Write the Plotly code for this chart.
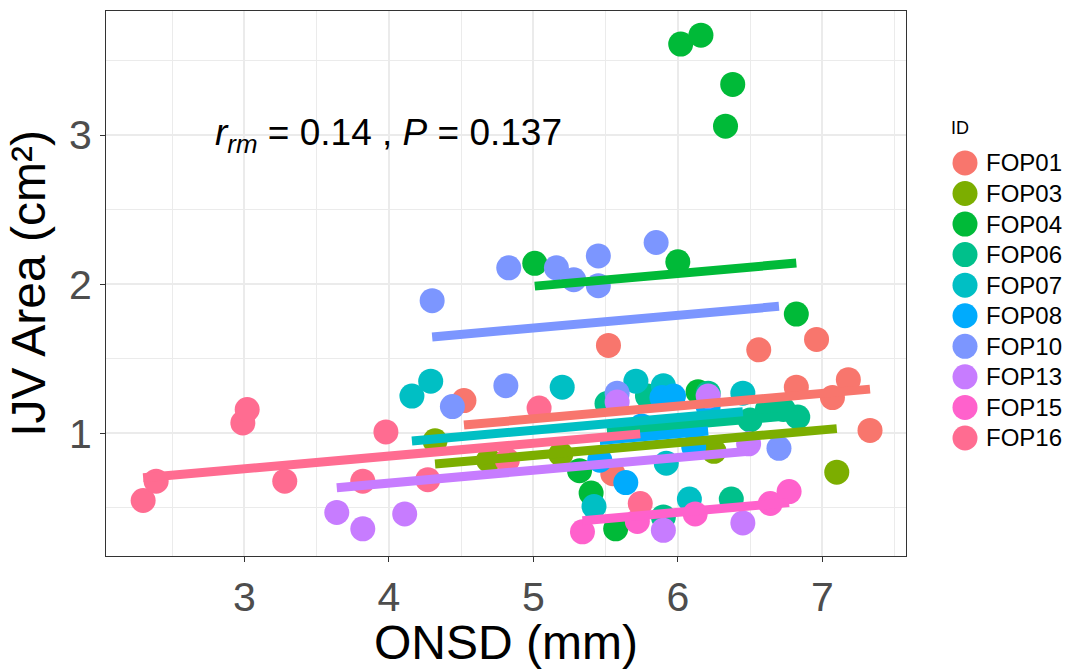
import plotly.graph_objects as go

# ONSD (mm) and IJV area (cm^2) per subject
ids = ["FOP01", "FOP03", "FOP04", "FOP06", "FOP07", "FOP08", "FOP10", "FOP13", "FOP15", "FOP16"]
colors = ["#F8766D", "#7CAE00", "#00BA38", "#00C08B", "#00BFC4",
          "#00ABFD", "#7C96FF", "#C77CFF", "#FF61CC", "#FF6C91"]

fop01_x = [4.52, 5.52, 5.55, 6.56, 6.96, 6.82, 7.18, 7.07, 7.33]
fop01_y = [1.22, 1.59, 0.73, 1.56, 1.63, 1.31, 1.36, 1.24, 1.02]
fop03_x = [4.32, 4.69, 5.19, 6.25, 7.10]
fop03_y = [0.95, 0.82, 0.86, 0.88, 0.74]
fop04_x = [6.02, 6.16, 6.38, 6.33, 5.01, 6.00, 6.82, 6.14, 5.32, 5.40, 5.57]
fop04_y = [3.61, 3.67, 3.34, 3.06, 2.14, 2.15, 1.80, 1.28, 0.75, 0.60, 0.36]
fop06_x = [5.51, 5.79, 5.90, 6.21, 6.37, 6.50, 6.62, 6.73, 6.83]
fop06_y = [1.20, 1.25, 0.44, 1.27, 0.56, 1.09, 1.16, 1.16, 1.11]
fop07_x = [4.16, 4.29, 5.20, 5.71, 5.90, 6.45, 5.42, 5.92, 6.08]
fop07_y = [1.25, 1.35, 1.31, 1.35, 1.32, 1.27, 0.51, 0.80, 0.56]
fop08_x = [5.46, 5.64, 5.75, 5.89, 5.97, 6.11, 6.21]
fop08_y = [0.82, 0.67, 1.05, 1.24, 1.25, 0.91, 1.18]
fop10_x = [4.30, 4.83, 5.16, 5.28, 5.45, 5.45, 5.85, 4.44, 4.81, 5.58, 6.70]
fop10_y = [1.89, 2.11, 2.11, 2.03, 2.19, 1.99, 2.28, 1.18, 1.32, 1.27, 0.90]
fop13_x = [3.64, 3.82, 4.11, 5.58, 6.21, 5.90, 6.45, 6.49]
fop13_y = [0.47, 0.36, 0.46, 1.21, 1.25, 0.35, 0.40, 0.93]
fop15_x = [5.34, 5.72, 6.12, 6.64, 6.77]
fop15_y = [0.34, 0.41, 0.46, 0.53, 0.61]
fop16_x = [2.30, 2.39, 2.99, 3.02, 3.28, 3.82, 3.98, 4.27, 4.82, 5.04, 5.74]
fop16_y = [0.55, 0.68, 1.07, 1.16, 0.68, 0.68, 1.01, 0.69, 0.82, 1.17, 0.53]

# repeated-measures correlation fit: common slope, subject intercepts
rm_slope = 0.0855
rm_intercepts = [0.670, 0.425, 1.559, 0.539, 0.594, 0.485, 1.279, 0.325, -0.042, 0.506]

r_rm = 0.14
p_value = 0.137

x_ticks = [3, 4, 5, 6, 7]
y_ticks = [1, 2, 3]

xs = [fop01_x, fop03_x, fop04_x, fop06_x, fop07_x, fop08_x, fop10_x, fop13_x, fop15_x, fop16_x]
ys = [fop01_y, fop03_y, fop04_y, fop06_y, fop07_y, fop08_y, fop10_y, fop13_y, fop15_y, fop16_y]

FONT = "Liberation Sans, Arial, sans-serif"
fig = go.Figure()

for name, col, x, y in zip(ids, colors, xs, ys):
    fig.add_trace(go.Scatter(x=x, y=y, mode="markers", name=name,
                             marker=dict(color=col, size=25, line=dict(width=0)),
                             showlegend=False, hoverinfo="x+y+name"))

for name, col, x, a in zip(ids, colors, xs, rm_intercepts):
    x0, x1 = min(x), max(x)
    fig.add_trace(go.Scatter(x=[x0, x1], y=[a + rm_slope * x0, a + rm_slope * x1],
                             mode="lines", line=dict(color=col, width=9),
                             showlegend=False, hoverinfo="skip"))

# legend keys drawn on their own axes so the circles keep full size
n = len(ids)
key_pos = [n - 1 - i for i in range(n)]
fig.add_trace(go.Scatter(x=[59] * n, y=key_pos, mode="markers",
                         marker=dict(color=colors, size=25, line=dict(width=0)),
                         xaxis="x2", yaxis="y2", showlegend=False, hoverinfo="skip"))
for name, v in zip(ids, key_pos):
    fig.add_annotation(x=78, y=v, xref="x2", yref="y2", text=name, showarrow=False,
                       xanchor="left", yanchor="middle",
                       font=dict(family=FONT, size=24, color="#000000"))
fig.add_annotation(x=43, y=n - 1 + 1.15, xref="x2", yref="y2", text="ID", showarrow=False,
                   xanchor="left", yanchor="middle",
                   font=dict(family=FONT, size=18, color="#000000"))

fig.add_annotation(x=4.0, y=3.0, xref="x", yref="y",
                   text=f"<i>r</i><sub><i>rm</i></sub> = {r_rm} , <i>P</i> = {p_value}",
                   showarrow=False, xanchor="center", yanchor="middle",
                   font=dict(family=FONT, size=37, color="#000000"))

main_frac = 800 / 964
axis_common = dict(showline=True, mirror=True, linecolor="#333333", linewidth=1.2,
                   ticks="outside", ticklen=5, tickwidth=1.2, tickcolor="#333333",
                   showgrid=True, gridcolor="#EBEBEB", gridwidth=1.6, zeroline=False,
                   tickfont=dict(family=FONT, size=41, color="#4D4D4D"))

fig.update_layout(
    width=1070, height=669,
    margin=dict(l=106, r=0, t=11, b=113),
    paper_bgcolor="white", plot_bgcolor="white",
    xaxis=dict(domain=[0, main_frac], range=[2.043, 7.579], tickvals=x_ticks,
               minor=dict(dtick=0.5, tick0=0.5, showgrid=True, gridcolor="#EBEBEB", gridwidth=0.8, ticks=""),
               title=dict(text="ONSD (mm)", font=dict(family=FONT, size=48, color="#000000"), standoff=0),
               **axis_common),
    yaxis=dict(range=[0.178, 3.832], tickvals=y_ticks,
               minor=dict(dtick=0.5, tick0=0.5, showgrid=True, gridcolor="#EBEBEB", gridwidth=0.8, ticks=""),
               title=dict(text="IJV Area (cm²)", font=dict(family=FONT, size=48, color="#000000"), standoff=8),
               **axis_common),
    xaxis2=dict(domain=[main_frac, 1], range=[0, 164], visible=False, fixedrange=True),
    yaxis2=dict(anchor="x2", domain=[0, 1], range=[-3.861, 13.97], visible=False, fixedrange=True),
)

fig.write_html("out.html")
